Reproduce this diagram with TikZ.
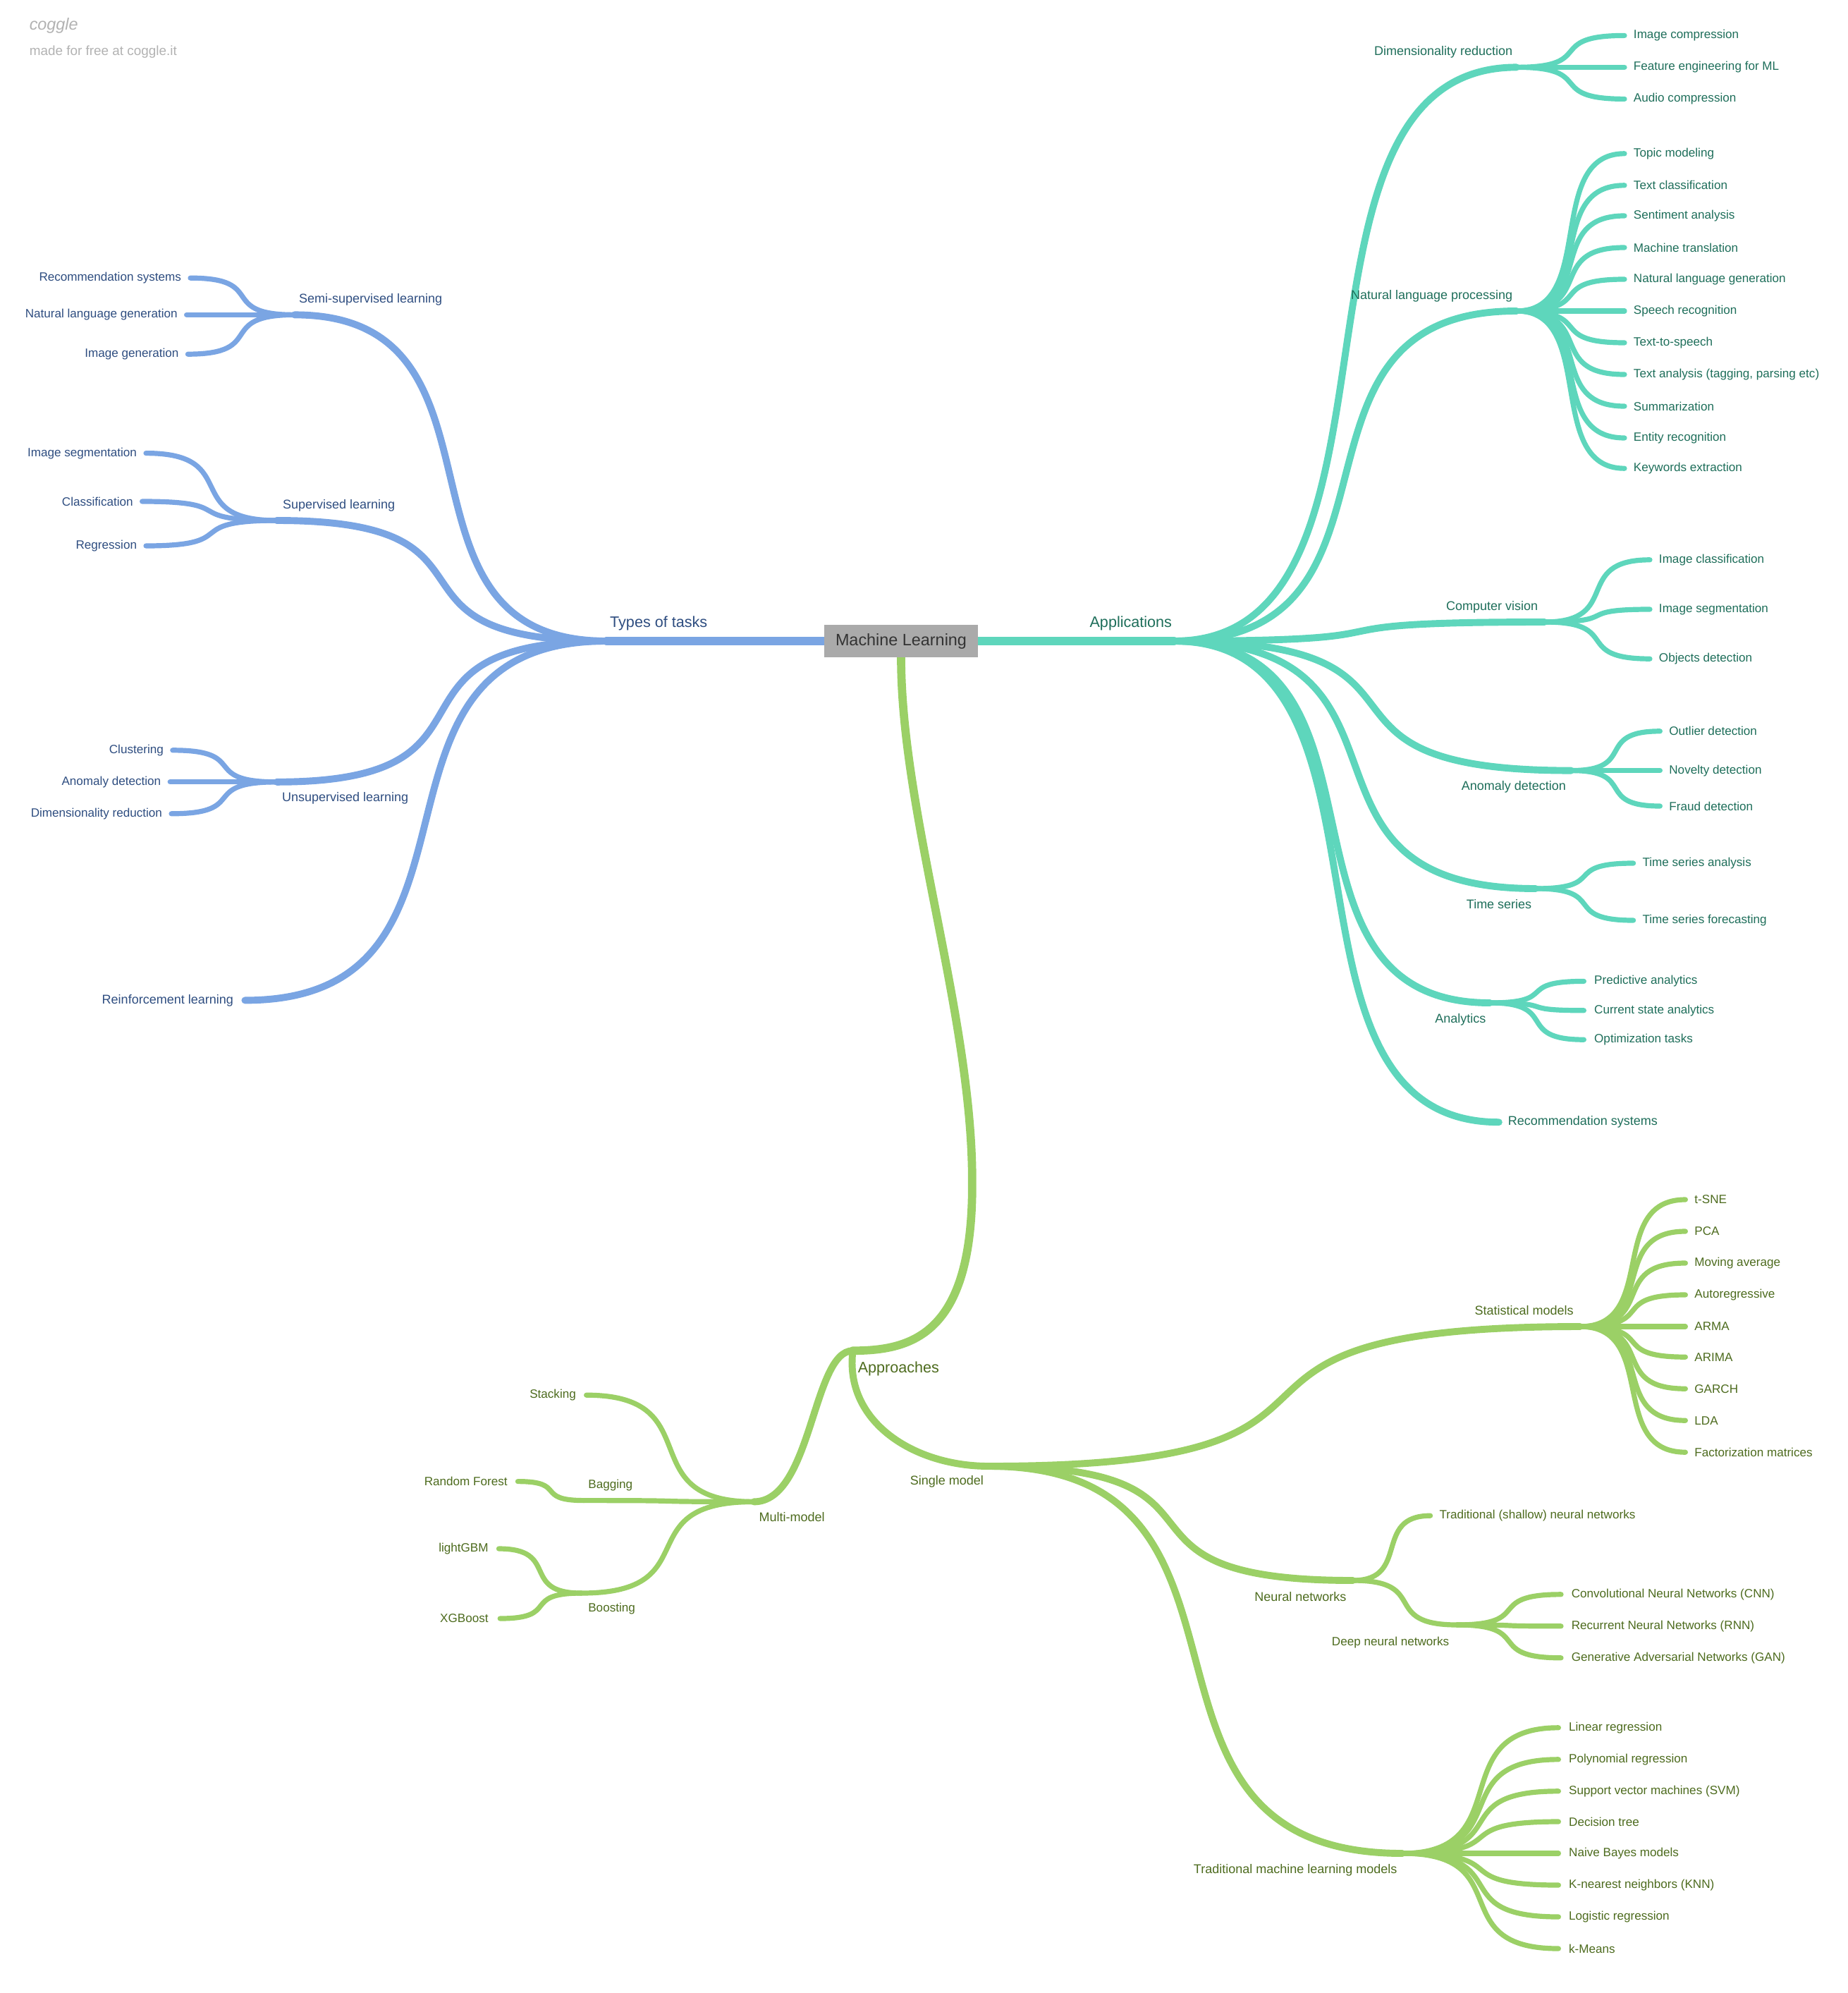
\documentclass[tikz,border=0pt]{standalone}
\usepackage{fontspec}
\setmainfont{Liberation Sans}
\usetikzlibrary{calc}
\definecolor{cb}{HTML}{7AA5E3}
\definecolor{ct}{HTML}{5ED6BC}
\definecolor{cg}{HTML}{9BD066}
\definecolor{tb}{HTML}{2E4D80}
\definecolor{tt}{HTML}{1E6E5A}
\definecolor{tg}{HTML}{4D6B1E}
\definecolor{box}{HTML}{AAAAAA}
\newcommand\lnk[3]{\draw[#1] let \p1=(#2), \p2=(#3) in (\p1) .. controls ({\x1+0.75*(\x2-\x1)},\y1) and ({\x2-0.75*(\x2-\x1)},\y2) .. (\p2);}
\tikzset{x=1pt,y=-1pt,
 l1/.style={line width=6.5pt,line cap=round},
 l2/.style={line width=5.5pt,line cap=round},
 l3/.style={line width=4pt,line cap=round},
 leaf/.style={font=\fontsize{9.5}{11}\selectfont,inner sep=0pt},
 mid/.style={font=\fontsize{10}{12}\selectfont,inner sep=0pt},
 main/.style={font=\fontsize{12}{14}\selectfont,inner sep=0pt}}
\begin{document}
\begin{tikzpicture}
\useasboundingbox (0,0) rectangle (1456,1570);
\node[font=\itshape\fontsize{13}{14}\selectfont,text=black!30,anchor=west,inner sep=0pt] (cg1) at (23,20) {coggle};
\node[font=\fontsize{10.5}{12}\selectfont,text=black!30,anchor=west,inner sep=0pt] (cg2) at (23,41) {made for free at coggle.it};
% ---------- blue ----------
\coordinate (T) at (478,505);
\coordinate (S) at (232,248);
\coordinate (SU) at (218,410);
\coordinate (U) at (218,616);
\coordinate (R) at (193,788);
\draw[cb,l1] (650,505) -- (T);
\node[main,text=tb] (tl) at (519,491) {Types of tasks};
\lnk{cb,l2}{T}{S}\lnk{cb,l2}{T}{SU}\lnk{cb,l2}{T}{U}\lnk{cb,l2}{T}{R}
\node[mid,text=tb] (sl) at (292,236) {Semi-supervised learning};
\node[mid,text=tb] (sul) at (267,398) {Supervised learning};
\node[mid,text=tb] (ul) at (272,629) {Unsupervised learning};
\node[mid,text=tb,anchor=east] (rl) at (184,788) {Reinforcement learning};
\foreach \yy/\ee/\lab in {219/150/Recommendation systems,248/147/Natural language generation,279/148/Image generation}
 {\coordinate (s\yy) at (\ee,\yy); \lnk{cb,l3}{S}{s\yy} \node[leaf,text=tb,anchor=east] (st\yy) at ({\ee-7},\yy) {\lab};}
\foreach \yy/\ee/\lab in {357/115/Image segmentation,395/112/Classification,430/115/Regression}
 {\coordinate (su\yy) at (\ee,\yy); \lnk{cb,l3}{SU}{su\yy} \node[leaf,text=tb,anchor=east] (sut\yy) at ({\ee-7},\yy) {\lab};}
\foreach \yy/\ee/\lab in {591/136/Clustering,616/134/Anomaly detection,641/135/Dimensionality reduction}
 {\coordinate (u\yy) at (\ee,\yy); \lnk{cb,l3}{U}{u\yy} \node[leaf,text=tb,anchor=east] (ut\yy) at ({\ee-7},\yy) {\lab};}
% ---------- teal ----------
\coordinate (A) at (925,505);
\draw[ct,l1] (771,505) -- (A);
\node[main,text=tt] (al) at (891,491) {Applications};
\coordinate (DR) at (1195,53);
\coordinate (NL) at (1195,245);
\coordinate (CV) at (1217,490);
\coordinate (AD) at (1238,607);
\coordinate (TS) at (1210,700);
\coordinate (AN) at (1174,790);
\coordinate (RS) at (1181,884);
\foreach \cc in {DR,NL,CV,AD,TS,AN,RS} {\lnk{ct,l2}{A}{\cc}}
\node[mid,text=tt,anchor=east] (drl) at (1192,41) {Dimensionality reduction};
\node[mid,text=tt,anchor=east] (nll) at (1192,233) {Natural language processing};
\node[mid,text=tt,anchor=east] (cvl) at (1212,478) {Computer vision};
\node[mid,text=tt,anchor=east] (adl) at (1234,620) {Anomaly detection};
\node[mid,text=tt,anchor=east] (tsl) at (1207,712) {Time series};
\node[mid,text=tt,anchor=east] (anl) at (1171,803) {Analytics};
\node[mid,text=tt,anchor=west] (rsl) at (1188,884) {Recommendation systems};
\foreach \yy/\lab in {28/Image compression,53/Feature engineering for ML,78/Audio compression}
 {\coordinate (d\yy) at (1280,\yy); \lnk{ct,l3}{DR}{d\yy} \node[leaf,text=tt,anchor=west] (dt\yy) at (1287,\yy) {\lab};}
\foreach \yy/\lab in {121/Topic modeling,146/Text classification,170/Sentiment analysis,195/Machine translation,220/Natural language generation,245/Speech recognition,270/Text-to-speech,295/{Text analysis (tagging, parsing etc)},320/Summarization,345/Entity recognition,369/Keywords extraction}
 {\coordinate (n\yy) at (1280,\yy); \lnk{ct,l3}{NL}{n\yy} \node[leaf,text=tt,anchor=west] (nt\yy) at (1287,\yy) {\lab};}
\foreach \yy/\lab in {441/Image classification,480/Image segmentation,519/Objects detection}
 {\coordinate (c\yy) at (1300,\yy); \lnk{ct,l3}{CV}{c\yy} \node[leaf,text=tt,anchor=west] (ctt\yy) at (1307,\yy) {\lab};}
\foreach \yy/\lab in {576/Outlier detection,607/Novelty detection,635/Fraud detection}
 {\coordinate (a\yy) at (1308,\yy); \lnk{ct,l3}{AD}{a\yy} \node[leaf,text=tt,anchor=west] (at\yy) at (1315,\yy) {\lab};}
\foreach \yy/\lab in {680/Time series analysis,725/Time series forecasting}
 {\coordinate (t\yy) at (1287,\yy); \lnk{ct,l3}{TS}{t\yy} \node[leaf,text=tt,anchor=west] (tt\yy) at (1294,\yy) {\lab};}
\foreach \yy/\lab in {773/Predictive analytics,796/Current state analytics,819/Optimization tasks}
 {\coordinate (p\yy) at (1248,\yy); \lnk{ct,l3}{AN}{p\yy} \node[leaf,text=tt,anchor=west] (pt\yy) at (1256,\yy) {\lab};}
% ---------- green ----------
\coordinate (MLb) at (710,518);
\coordinate (P) at (672,1064);
\coordinate (Pm) at (766,930);
\draw[cg,l1] (MLb) .. controls (710,640) and (766,800) .. (Pm) .. controls (767,1050) and (720,1064) .. (P);
\node[main,text=tg] (apl) at (708,1078) {Approaches};
\coordinate (MM) at (594,1183);
\coordinate (SM) at (779,1155);
\draw[cg,l2] (P) .. controls (640,1064) and (640,1183) .. (MM);
\draw[cg,l2] (P) .. controls (665,1120) and (720,1155) .. (SM);
\node[mid,text=tg] (mml) at (624,1195) {Multi-model};
\node[mid,text=tg] (sml) at (746,1167) {Single model};
\coordinate (st) at (462,1099);
\coordinate (BG) at (460,1182);
\coordinate (BO) at (458,1255);
\foreach \cc in {st,BG,BO} {\lnk{cg,l3}{MM}{\cc}}
\node[leaf,text=tg,anchor=east] (stl) at (454,1099) {Stacking};
\node[leaf,text=tg] (bgl) at (481,1170) {Bagging};
\node[leaf,text=tg] (bol) at (482,1267) {Boosting};
\coordinate (rf) at (408,1167); \lnk{cg,l3}{BG}{rf}
\node[leaf,text=tg,anchor=east] (rfl) at (400,1167) {Random Forest};
\coordinate (lg) at (393,1220); \lnk{cg,l3}{BO}{lg}
\coordinate (xg) at (394,1275); \lnk{cg,l3}{BO}{xg}
\node[leaf,text=tg,anchor=east] (lgl) at (385,1220) {lightGBM};
\node[leaf,text=tg,anchor=east] (xgl) at (385,1275) {XGBoost};
\coordinate (SS) at (1245,1045);
\coordinate (NN) at (1066,1245);
\coordinate (TM) at (1105,1460);
\foreach \cc in {SS,NN,TM} {\lnk{cg,l2}{SM}{\cc}}
\node[mid,text=tg,anchor=east] (ssl) at (1240,1032) {Statistical models};
\node[mid,text=tg,anchor=east] (nnl) at (1061,1258) {Neural networks};
\node[mid,text=tg,anchor=east] (tml) at (1101,1473) {Traditional machine learning models};
\foreach \yy/\lab in {945/t-SNE,970/PCA,995/Moving average,1020/Autoregressive,1045/ARMA,1069/ARIMA,1094/GARCH,1119/LDA,1144/Factorization matrices}
 {\coordinate (g\yy) at (1328,\yy); \lnk{cg,l3}{SS}{g\yy} \node[leaf,text=tg,anchor=west] (gt\yy) at (1335,\yy) {\lab};}
\coordinate (sh) at (1127,1194); \lnk{cg,l3}{NN}{sh}
\node[leaf,text=tg,anchor=west] (shl) at (1134,1194) {Traditional (shallow) neural networks};
\coordinate (DN) at (1148,1280); \lnk{cg,l3}{NN}{DN}
\node[leaf,text=tg,anchor=east] (dnl) at (1142,1294) {Deep neural networks};
\foreach \yy/\lab in {1256/Convolutional Neural Networks (CNN),1281/Recurrent Neural Networks (RNN),1306/Generative Adversarial Networks (GAN)}
 {\coordinate (k\yy) at (1230,\yy); \lnk{cg,l3}{DN}{k\yy} \node[leaf,text=tg,anchor=west] (kt\yy) at (1238,\yy) {\lab};}
\foreach \yy/\lab in {1361/Linear regression,1386/Polynomial regression,1411/Support vector machines (SVM),1435/Decision tree,1460/Naive Bayes models,1485/K-nearest neighbors (KNN),1510/Logistic regression,1535/k-Means}
 {\coordinate (m\yy) at (1228,\yy); \lnk{cg,l3}{TM}{m\yy} \node[leaf,text=tg,anchor=west] (mt\yy) at (1236,\yy) {\lab};}
% center box
\node[fill=box,minimum width=121pt,minimum height=26pt,inner sep=0pt,font=\fontsize{13}{15}\selectfont,text=black!80] (ml) at (710,505) {Machine Learning};
\end{tikzpicture}
\end{document}
